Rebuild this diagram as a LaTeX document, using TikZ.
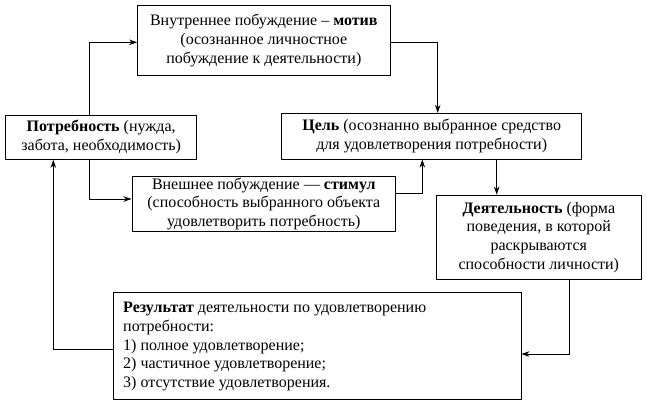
\documentclass[tikz,border=0pt]{standalone}
\usepackage{fontspec}
\setmainfont{Liberation Serif}
\usetikzlibrary{arrows.meta}
\tikzset{
  boxfont/.style={font=\fontsize{16}{18.7}\selectfont},
  box/.style={draw, line width=0.9pt, rectangle, inner sep=0pt, align=center, boxfont},
  conn/.style={line width=0.9pt, -{Stealth[length=8pt,width=5.5pt,inset=2.5pt]}},
}
\begin{document}
\begin{tikzpicture}[x=1pt,y=-1pt]
\useasboundingbox (0,0) rectangle (647,407);
\node[box, minimum width=252.3pt, minimum height=69.3pt] (motiv) at (263.8,40.3)
  {Внутреннее побуждение – \textbf{мотив}\\(осознанное личностное\\побуждение к деятельности)};
\node[box, minimum width=191pt, minimum height=44.3pt] (potr) at (101.2,137.2)
  {\textbf{Потребность} (нужда,\\забота, необходимость)};
\node[box, minimum width=300pt, minimum height=45.7pt] (tsel) at (431.7,136.2)
  {\textbf{Цель} (осознанно выбранное средство\\для удовлетворения потребности)};
\node[box, minimum width=263.7pt, minimum height=54.3pt] (stim) at (263.8,203.8)
  {Внешнее побуждение — \textbf{стимул}\\(способность выбранного объекта\\удовлетворить потребность)};
\node[box, minimum width=204.3pt, minimum height=84.3pt] (deyat) at (538.8,237.2)
  {\textbf{Деятельность} (форма\\поведения, в которой\\раскрываются\\способности личности)};
\node[draw, line width=0.9pt, rectangle, inner sep=0pt, minimum width=407.5pt, minimum height=107.6pt, anchor=north west] (res) at (113,291.7) {};
\node[boxfont, align=left, anchor=north west, inner sep=0pt] (restext) at (123,302)
  {\textbf{Результат} деятельности по удовлетворению\\потребности:\\1) полное удовлетворение;\\2) частичное удовлетворение;\\3) отсутствие удовлетворения.};
% connectors
\coordinate (c1) at (89.3,42.3);
\coordinate (c2) at (437.7,42.3);
\coordinate (c3) at (89.3,199);
\coordinate (c4) at (422.3,193.3);
\coordinate (c5) at (496.7,0);
\coordinate (c6) at (569.3,354);
\coordinate (c7) at (53.3,349.3);
\draw[conn] (potr.north -| c1) -- (c1) -- (motiv.west |- c1);
\draw[conn] (motiv.east |- c2) -- (c2) -- (tsel.north -| c2);
\draw[conn] (potr.south -| c3) -- (c3) -- (stim.west |- c3);
\draw[conn] (stim.east |- c4) -- (c4) -- (tsel.south -| c4);
\draw[conn] (tsel.south -| c5) -- (deyat.north -| c5);
\draw[conn] (deyat.south -| c6) -- (c6) -- (res.east |- c6);
\draw[conn] (res.west |- c7) -- (c7) -- (potr.south -| c7);
\end{tikzpicture}
\end{document}
